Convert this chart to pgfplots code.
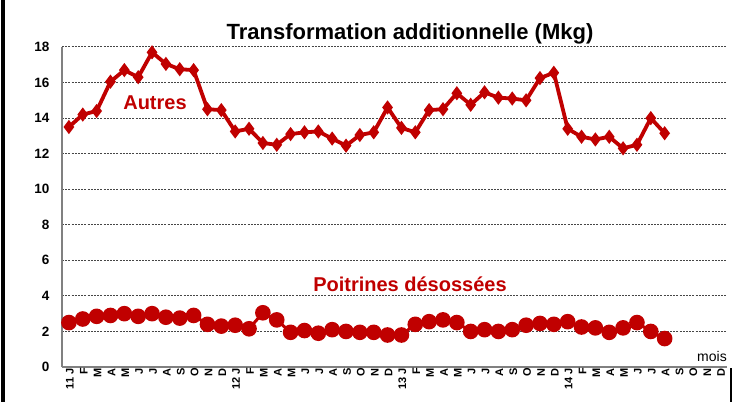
\documentclass[border=0pt]{standalone}
\usepackage{fontspec}
\setmainfont{Liberation Sans}
\usepackage{pgfplots}
\usepackage{pgfplotstable}
\pgfplotsset{compat=1.18}
\definecolor{cred}{RGB}{192,0,0}
\definecolor{gridgray}{RGB}{70,70,70}
\definecolor{axgray}{RGB}{128,128,128}

\pgfplotstableread{
x y
0 13.5
1 14.2
2 14.4
3 16.05
4 16.7
5 16.3
6 17.7
7 17.05
8 16.75
9 16.7
10 14.5
11 14.45
12 13.25
13 13.4
14 12.6
15 12.5
16 13.1
17 13.2
18 13.25
19 12.85
20 12.45
21 13.05
22 13.2
23 14.6
24 13.45
25 13.2
26 14.45
27 14.5
28 15.4
29 14.75
30 15.45
31 15.15
32 15.1
33 15.0
34 16.25
35 16.55
36 13.4
37 12.95
38 12.8
39 12.95
40 12.3
41 12.5
42 14.0
43 13.15
}\autres

\pgfplotstableread{
x y
0 2.5
1 2.7
2 2.85
3 2.9
4 3.0
5 2.85
6 3.0
7 2.8
8 2.75
9 2.9
10 2.4
11 2.3
12 2.35
13 2.15
14 3.05
15 2.65
16 1.95
17 2.05
18 1.9
19 2.1
20 2.0
21 1.95
22 1.95
23 1.8
24 1.8
25 2.4
26 2.55
27 2.65
28 2.5
29 2.0
30 2.1
31 2.0
32 2.1
33 2.35
34 2.45
35 2.4
36 2.55
37 2.25
38 2.2
39 1.95
40 2.2
41 2.5
42 2.0
43 1.6
}\poitrines

\begin{document}
\begin{tikzpicture}
\useasboundingbox (0,0) rectangle (734pt,402pt);
\fill[black] (1pt,0) rectangle (5pt,402pt);
\fill[black] (730pt,0) rectangle (732pt,34pt);
\begin{axis}[
  at={(62pt,35pt)}, anchor=south west,
  scale only axis,
  width=665pt, height=320pt,
  xmin=-0.5, xmax=47.5,
  ymin=0, ymax=18,
  ytick={0,2,...,18},
  xtick={0,...,47},
  xticklabels={11 J,F,M,A,M,J,J,A,S,O,N,D,12 J,F,M,A,M,J,J,A,S,O,N,D,13 J,F,M,A,M,J,J,A,S,O,N,D,14 J,F,M,A,M,J,J,A,S,O,N,D},
  xticklabel style={rotate=90, anchor=east, font=\bfseries\fontsize{11}{11}\selectfont, inner sep=1pt, yshift=-1pt},
  yticklabel style={font=\bfseries\fontsize{13.5}{13.5}\selectfont, xshift=-9pt},
  /pgf/number format/assume math mode=true,
  major tick length=0pt,
  axis x line*=bottom, axis y line*=left,
  axis line style={-, draw=axgray, line width=1.2pt},
  ymajorgrids,
  major grid style={draw=gridgray, line width=1pt, dash pattern=on 2pt off 1.2pt},
  clip=false,
]
\addplot[cred, line width=3.8pt, mark=diamond*, mark size=4pt, mark options={solid}] table[x=x,y=y] {\autres};
\addplot[cred, line width=3pt, mark=*, mark size=6.3pt] table[x=x,y=y] {\poitrines};
\end{axis}
\node[font=\bfseries\fontsize{22}{22}\selectfont, anchor=center] at (410pt,368pt) {Transformation additionnelle (Mkg)};
\node[font=\bfseries\fontsize{20}{20}\selectfont, text=cred, anchor=center] at (155pt,299pt) {Autres};
\node[font=\bfseries\fontsize{20}{20}\selectfont, text=cred, anchor=center] at (410pt,118pt) {Poitrines désossées};
\node[font=\fontsize{14}{14}\selectfont, anchor=east, inner sep=0pt] at (727pt,46pt) {mois};
\end{tikzpicture}
\end{document}
